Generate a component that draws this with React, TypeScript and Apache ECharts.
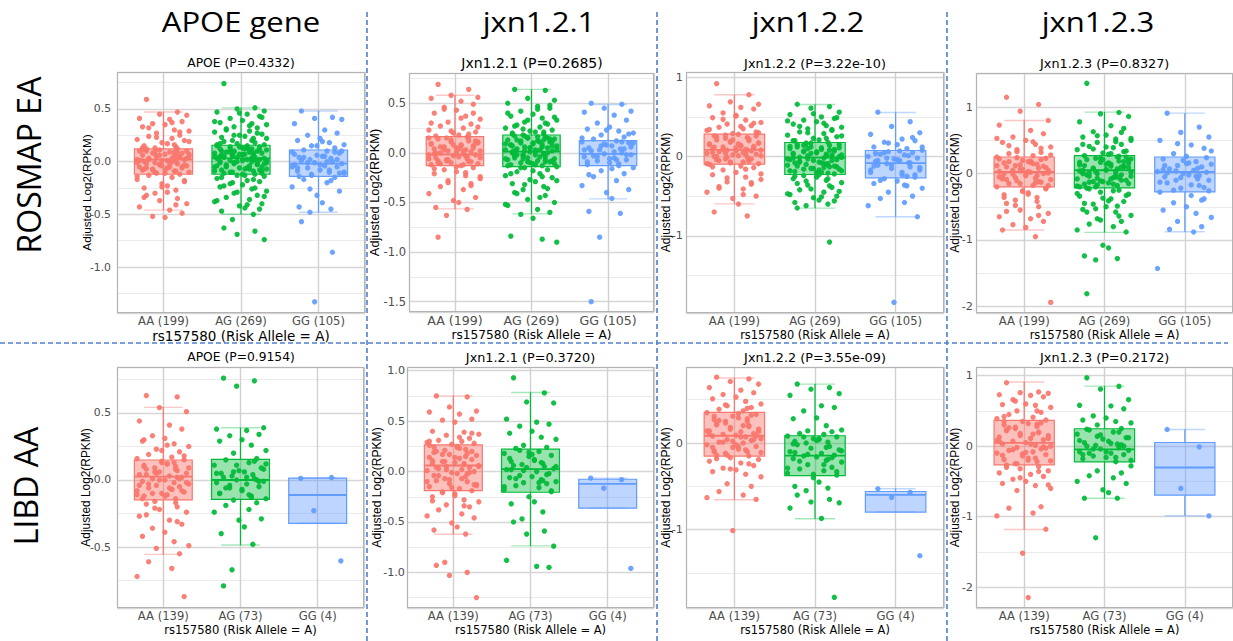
import { useEffect, useRef } from 'react';
import * as echarts from 'echarts';

// ---------- text ----------
const HEADERS = ['APOE gene', 'jxn1.2.1', 'jxn1.2.2', 'jxn1.2.3'];
const ROW_LABELS = ['ROSMAP EA', 'LIBD AA'];
const GENOTYPES = ['AA', 'AG', 'GG'];
const ROSMAP_COUNTS = [199, 269, 105];
const LIBD_COUNTS = [139, 73, 4];
const PANEL_TITLES = [
  'APOE (P=0.4332)', 'Jxn1.2.1 (P=0.2685)', 'Jxn1.2.2 (P=3.22e-10)', 'Jxn1.2.3 (P=0.8327)',
  'APOE (P=0.9154)', 'Jxn1.2.1 (P=0.3720)', 'Jxn1.2.2 (P=3.55e-09)', 'Jxn1.2.3 (P=0.2172)',
];
const X_TITLE = 'rs157580 (Risk Allele = A)';
const Y_TITLE = 'Adjusted Log2(RPKM)';

// ---------- box statistics [min, q1, median, q3, max] per genotype ----------
const BOX_R_APOE = [[-0.46, -0.12, 0.02, 0.12, 0.47], [-0.5, -0.12, 0.03, 0.155, 0.51], [-0.48, -0.14, -0.02, 0.11, 0.48]];
const BOX_R_J1 = [[-0.565, -0.128, -0.017, 0.164, 0.58], [-0.615, -0.138, 0.013, 0.18, 0.64], [-0.464, -0.128, -0.01, 0.124, 0.487]];
const BOX_R_J2 = [[-0.597, -0.096, 0.084, 0.282, 0.78], [-0.651, -0.227, -0.013, 0.177, 0.656], [-0.76, -0.269, -0.083, 0.076, 0.555]];
const BOX_R_J3 = [[-0.85, -0.2, 0.024, 0.25, 0.8], [-0.886, -0.216, 0.05, 0.27, 0.925], [-0.877, -0.276, 0.024, 0.25, 0.91]];
const BOX_L_APOE = [[-0.555, -0.149, 0.025, 0.149, 0.542], [-0.485, -0.144, 0, 0.154, 0.39], [-0.323, -0.323, -0.112, 0.014, 0.018]];
const BOX_L_J1 = [[-0.621, -0.188, 0.06, 0.265, 0.751], [-0.737, -0.205, 0.024, 0.222, 0.784], [-0.363, -0.363, -0.122, -0.076, -0.065]];
const BOX_L_J2 = [[-0.654, -0.15, 0.084, 0.353, 0.75], [-0.873, -0.377, -0.146, 0.084, 0.68], [-0.796, -0.796, -0.598, -0.559, -0.527]];
const BOX_L_J3 = [[-1.183, -0.265, 0.048, 0.365, 0.91], [-0.739, -0.222, -0.047, 0.247, 0.852], [-0.989, -0.696, -0.303, 0.052, 0.237]];

// ---------- individual samples ----------
const R_APOE_AA = [.59,.47,.45,.44,.41,.4,.38,.36,.35,.33,.3,.29,.27,.25,.24,.22,.21,.2,.18,.17,.15,.14,.13,.12,.12,.11,.1,.1,.09,.08,.08,.07,.06,.06,.05,.05,.04,.03,.03,.02,.02,.01,.01,0,0,-.01,-.02,-.02,-.03,-.04,-.05,-.05,-.06,-.07,-.08,-.08,-.09,-.1,-.11,-.12,-.13,-.15,-.17,-.19,-.21,-.23,-.25,-.27,-.3,-.32,-.35,-.37,-.4,-.43,-.46,-.49,-.52,-.53,
  .11,.09,.07,.05,.04,.02,0,-.01,-.03,-.04,-.06,-.07,-.09,-.1,.1,.08,.06,.03,.01,-.02,-.05,-.08,-.11,.13,.16,.19,.23,.28,.32,.37,-.14,-.18,-.24,-.29,-.34,-.41,.09,-.06,.04,-.03];
const R_APOE_AG = [.74,.51,.5,.48,.47,.45,.43,.41,.39,.37,.36,.35,.33,.32,.3,.29,.28,.26,.25,.24,.23,.22,.2,.19,.18,.17,.16,.16,.15,.14,.14,.13,.12,.12,.11,.1,.1,.09,.09,.08,.08,.07,.07,.06,.06,.05,.05,.04,.04,.03,.03,.02,.02,.01,.01,0,0,-.01,-.02,-.02,-.03,-.04,-.05,-.05,-.06,-.07,-.08,-.09,-.1,-.11,-.12,-.13,-.14,-.16,-.18,-.19,-.21,-.22,-.24,-.26,-.28,-.3,-.32,-.34,-.36,-.38,-.4,-.42,-.44,-.47,-.5,-.55,-.63,-.66,-.69,-.74,
  .15,.13,.11,.09,.07,.05,.03,.01,-.01,-.03,-.05,-.07,-.09,-.11,.14,.12,.1,.08,.06,.04,.02,0,-.02,-.04,-.06,-.08,-.1,-.12,.17,.2,.22,.25,.27,.31,.34,.38,.42,.46,-.13,-.15,-.17,-.2,-.23,-.25,-.29,-.33,-.37,-.41,-.45,.12,.06,-.01,.03,-.07,.09,0,-.04,.11,.05,-.09];
const R_APOE_GG = [.48,.42,.41,.4,.36,.3,.27,.25,.22,.2,.18,.16,.15,.13,.11,.1,.09,.08,.06,.05,.04,.03,.02,.01,0,-.01,-.02,-.03,-.04,-.05,-.06,-.08,-.09,-.1,-.11,-.13,-.15,-.17,-.2,-.24,-.28,-.32,-.39,-.43,-.45,-.48,-.57,-.86,-1.33,
  .1,.07,.05,.02,-.01,-.03,-.06,-.08,-.1,-.12,.09,.04,0,-.05,-.11,.15,.19,-.14,-.18,-.26];

const R_J1_AA = [.69,.64,.58,.56,.55,.52,.49,.46,.43,.4,.37,.34,.31,.29,.27,.25,.23,.21,.2,.18,.17,.16,.15,.14,.12,.11,.1,.09,.08,.07,.06,.05,.04,.03,.02,.02,.01,0,-.01,-.02,-.02,-.03,-.04,-.05,-.06,-.07,-.08,-.09,-.1,-.11,-.12,-.13,-.15,-.17,-.19,-.21,-.23,-.26,-.28,-.31,-.34,-.37,-.41,-.45,-.48,-.5,-.55,-.57,-.63,-.85,
  .16,.13,.11,.09,.07,.05,.03,.01,-.01,-.03,-.05,-.07,-.09,-.11,-.12,.15,.12,.08,.04,0,-.04,-.08,-.1,.19,.22,.26,.3,.35,.4,.44,-.14,-.16,-.2,-.24,-.3,-.33,.06,.02,-.06,.1];
const R_J1_AG = [.64,.63,.55,.53,.5,.47,.45,.42,.39,.37,.35,.33,.31,.29,.28,.26,.25,.23,.22,.21,.2,.19,.18,.17,.16,.15,.14,.13,.12,.11,.1,.09,.08,.08,.07,.06,.05,.04,.03,.03,.02,.01,.01,0,-.01,-.02,-.03,-.04,-.05,-.06,-.07,-.08,-.09,-.1,-.11,-.12,-.13,-.14,-.15,-.17,-.19,-.21,-.23,-.25,-.27,-.29,-.31,-.34,-.37,-.4,-.43,-.47,-.5,-.53,-.57,-.6,-.62,-.66,-.84,-.87,-.9,
  .17,.15,.13,.11,.09,.07,.05,.03,.01,-.01,-.03,-.05,-.07,-.09,-.11,-.13,.16,.14,.12,.1,.08,.06,.04,.02,0,-.02,-.04,-.06,-.08,-.1,-.12,.19,.21,.24,.27,.3,.33,.36,.4,.44,.48,-.15,-.18,-.21,-.24,-.28,-.32,-.36,-.41,-.45,-.52,.11,.05,-.02,.07,.13,-.06,.02,-.09,.15];
const R_J1_GG = [.5,.49,.45,.42,.41,.38,.33,.3,.26,.24,.22,.2,.18,.16,.14,.12,.11,.1,.08,.07,.05,.04,.03,.02,0,-.01,-.02,-.04,-.05,-.07,-.08,-.1,-.12,-.13,-.15,-.18,-.21,-.24,-.28,-.33,-.37,-.4,-.46,-.59,-.61,-.85,-1.5,
  .11,.09,.06,.03,.01,-.02,-.04,-.06,-.09,-.11,.1,.07,.04,-.03,-.07,.15,.19,.23,-.16,-.22];

const R_J2_AA = [.92,.78,.69,.66,.64,.62,.6,.55,.52,.49,.46,.43,.41,.39,.37,.35,.33,.31,.29,.28,.26,.24,.23,.21,.2,.18,.17,.16,.14,.13,.12,.11,.1,.09,.08,.08,.07,.06,.05,.04,.03,.02,.01,0,-.01,-.03,-.04,-.06,-.07,-.09,-.1,-.12,-.14,-.17,-.2,-.23,-.26,-.29,-.32,-.35,-.38,-.41,-.45,-.5,-.53,-.6,-.7,-.75,
  .27,.25,.22,.19,.17,.15,.13,.11,.09,.07,.05,.03,.01,-.01,-.03,-.05,-.07,-.09,.26,.21,.16,.12,.08,.04,0,-.04,-.08,.3,.34,.38,.42,.47,.51,-.13,-.16,-.22,-.27,-.33,-.4,-.48];
const R_J2_AG = [.66,.63,.61,.56,.53,.5,.48,.46,.44,.41,.39,.37,.35,.33,.31,.29,.27,.25,.23,.21,.2,.18,.17,.15,.14,.12,.11,.1,.09,.07,.06,.05,.04,.03,.02,.01,0,-.01,-.02,-.03,-.04,-.05,-.07,-.08,-.09,-.1,-.12,-.13,-.15,-.16,-.18,-.2,-.22,-.24,-.26,-.28,-.3,-.33,-.36,-.39,-.42,-.45,-.47,-.5,-.52,-.55,-.58,-.6,-.62,-.65,-1.08,
  .17,.15,.13,.11,.09,.07,.05,.03,.01,-.01,-.03,-.05,-.07,-.09,-.11,-.13,-.15,-.17,-.19,-.21,.16,.12,.08,.04,0,-.04,-.08,-.12,-.16,-.2,.2,.23,.26,.3,.34,.38,.42,.45,.49,.54,-.23,-.25,-.28,-.31,-.34,-.37,-.41,-.44,-.48,-.51,-.56,.14,.06,-.02,-.1,-.18,.1,.02,-.06,-.14];
const R_J2_GG = [.56,.44,.38,.3,.28,.22,.2,.18,.15,.12,.1,.08,.06,.05,.03,.02,0,-.02,-.03,-.05,-.06,-.08,-.09,-.11,-.13,-.15,-.17,-.2,-.23,-.26,-.28,-.31,-.34,-.37,-.4,-.45,-.5,-.53,-.58,-.62,-.76,-1.84,
  .07,.04,.01,-.02,-.05,-.08,-.11,-.14,-.17,-.2,-.23,.05,-.04,-.12,-.25,.12,.17,.24,-.3,-.36];

const R_J3_AA = [1.15,1.04,.94,.8,.73,.65,.6,.55,.5,.47,.44,.4,.36,.32,.3,.27,.25,.23,.2,.18,.16,.14,.12,.1,.08,.06,.05,.03,.02,0,-.01,-.03,-.05,-.07,-.09,-.11,-.13,-.15,-.18,-.2,-.23,-.26,-.29,-.32,-.36,-.4,-.45,-.5,-.55,-.6,-.65,-.68,-.72,-.77,-.81,-.85,-.95,-1.94,
  .24,.21,.18,.15,.12,.09,.06,.03,0,-.03,-.06,-.09,-.12,-.15,-.18,.22,.17,.11,.05,-.02,-.08,-.14,.28,.33,.38,.42,.48,.53,-.22,-.27,-.31,-.36,-.42,-.48,-.57,-.63,.13,.01,-.05,.19];
const R_J3_AG = [1.36,.92,.9,.86,.78,.72,.68,.63,.58,.55,.52,.5,.47,.44,.41,.39,.36,.34,.31,.29,.27,.25,.23,.21,.19,.17,.15,.13,.11,.1,.08,.06,.05,.03,.02,0,-.02,-.04,-.06,-.08,-.1,-.12,-.14,-.16,-.18,-.2,-.22,-.25,-.28,-.31,-.34,-.38,-.42,-.46,-.5,-.54,-.58,-.63,-.68,-.72,-.76,-.8,-.85,-.88,-1.08,-1.12,-1.24,-1.28,-1.3,-1.81,
  .26,.23,.2,.17,.14,.11,.08,.05,.02,-.01,-.04,-.07,-.1,-.13,-.16,-.19,.25,.21,.16,.12,.07,.03,-.02,-.06,-.11,-.15,-.2,.3,.33,.37,.4,.44,.48,.53,.57,.62,-.23,-.26,-.3,-.33,-.37,-.41,-.45,-.49,-.53,-.58,-.64,-.7,.09,.04,-.08,.18,-.12,.14,0,-.05,.22,-.17,.1,.01];
const R_J3_GG = [.91,.7,.62,.55,.5,.43,.38,.3,.26,.22,.18,.14,.12,.1,.07,.05,.03,.02,0,-.02,-.05,-.08,-.1,-.14,-.18,-.22,-.26,-.28,-.33,-.38,-.44,-.5,-.55,-.6,-.66,-.72,-.8,-.84,-.88,-1.43,
  .24,.2,.16,.12,.08,.04,.01,-.03,-.06,-.1,-.13,-.17,-.21,-.25,.15,.06,-.04,.34,.45,-.4];

const L_APOE_AA = [.63,.62,.54,.51,.44,.41,.38,.33,.31,.29,.27,.25,.23,.21,.19,.17,.16,.15,.13,.12,.11,.1,.09,.08,.07,.06,.05,.04,.03,.02,.01,0,-.01,-.02,-.03,-.04,-.05,-.06,-.07,-.08,-.09,-.1,-.11,-.12,-.14,-.16,-.18,-.2,-.22,-.24,-.27,-.3,-.33,-.36,-.39,-.42,-.46,-.49,-.51,-.55,-.61,-.66,-.72,-.87,
  .14,.12,.1,.08,.06,.04,.02,0,-.02,-.04,-.06,-.08,-.1,-.12,-.14,.13,.09,.05,.01,-.03,-.07,-.11,.18,.22,.26,.3,-.17,-.21,-.26,-.31];
const L_APOE_AG = [.76,.74,.7,.39,.38,.37,.34,.33,.3,.29,.26,.22,.2,.16,.15,.13,.11,.09,.07,.06,.05,.04,.03,.02,.01,0,-.01,-.02,-.03,-.05,-.06,-.08,-.1,-.12,-.14,-.15,-.17,-.19,-.22,-.24,-.29,-.3,-.35,-.4,-.48,-.67,-.79,
  .14,.11,.08,.05,.02,-.01,-.04,-.07,-.1,-.13,.12,.06,0,-.06,-.11];
const L_APOE_GG = [.012,.018,-.229,-.604];

const L_J1_AA = [.75,.74,.64,.6,.59,.57,.52,.51,.49,.4,.39,.37,.36,.33,.31,.3,.29,.28,.27,.25,.24,.22,.21,.2,.18,.17,.16,.14,.13,.12,.1,.09,.08,.07,.06,.05,.04,.03,.02,.01,0,-.01,-.02,-.04,-.05,-.07,-.09,-.1,-.12,-.13,-.15,-.17,-.19,-.21,-.22,-.25,-.28,-.3,-.33,-.35,-.38,-.42,-.44,-.46,-.51,-.55,-.58,-.62,-.9,-.93,-1,-1.03,-1.25,
  .26,.23,.2,.17,.14,.11,.08,.05,.02,-.01,-.04,-.07,-.1,-.13,-.16,.24,.19,.15,.1,.04,-.02,-.08,-.14,.3,.34,.38,-.2,-.24,-.29,-.34];
const L_J1_AG = [.93,.78,.69,.68,.52,.49,.47,.45,.4,.38,.34,.32,.26,.24,.23,.2,.18,.16,.15,.12,.1,.08,.07,.06,.05,.04,.03,.02,0,-.02,-.04,-.05,-.06,-.08,-.1,-.11,-.12,-.14,-.16,-.18,-.2,-.25,-.3,-.32,-.4,-.47,-.5,-.59,-.62,-.74,-.88,-.94,-.95,
  .21,.17,.13,.09,.05,.01,-.03,-.07,-.11,-.15,-.19,.19,.11,.02,-.09];
const L_J1_GG = [-.065,-.08,-.165,-.96];

const L_J2_AA = [.76,.74,.71,.68,.64,.61,.58,.56,.53,.51,.48,.45,.43,.41,.39,.37,.35,.33,.31,.29,.27,.25,.23,.21,.2,.18,.16,.14,.13,.11,.1,.09,.08,.07,.05,.04,.03,.01,0,-.02,-.04,-.05,-.07,-.09,-.1,-.12,-.14,-.15,-.17,-.19,-.21,-.23,-.26,-.29,-.31,-.33,-.36,-.39,-.47,-.5,-.56,-.6,-.63,-.65,-1.01,
  .34,.31,.28,.25,.22,.19,.16,.13,.1,.07,.04,.01,-.02,-.05,-.08,-.11,-.14,.32,.26,.2,.14,.08,.02,-.04,-.1,.4,.44,-.18,-.24,-.3];
const L_J2_AG = [.68,.64,.62,.57,.55,.43,.41,.37,.29,.28,.2,.15,.14,.13,.11,.1,.08,.07,.05,.04,.02,.01,0,-.02,-.04,-.06,-.08,-.1,-.12,-.14,-.15,-.16,-.18,-.2,-.22,-.25,-.28,-.3,-.32,-.35,-.37,-.4,-.45,-.5,-.52,-.55,-.6,-.65,-.68,-.69,-.75,-.87,-1.78,
  .07,.03,-.01,-.05,-.09,-.13,-.17,-.21,-.25,-.29,-.33,-.36,.05,-.11,-.19];
const L_J2_GG = [-.527,-.57,-.627,-1.3];

const L_J3_AA = [.9,.77,.76,.75,.73,.72,.7,.66,.6,.59,.58,.55,.5,.48,.45,.41,.39,.37,.35,.32,.3,.28,.25,.22,.2,.18,.15,.13,.11,.09,.07,.05,.03,.01,0,-.02,-.04,-.06,-.08,-.1,-.12,-.14,-.17,-.19,-.22,-.25,-.27,-.29,-.32,-.35,-.38,-.4,-.43,-.47,-.5,-.53,-.56,-.6,-.63,-.86,-.88,-.95,-.99,-1.18,-1.52,-2.15,
  .35,.31,.27,.23,.19,.15,.11,.07,.03,-.01,-.05,-.09,-.13,-.17,-.21,-.25,.33,.26,.17,.08,-.03,-.11,-.2,.42,.5,.64,-.3,-.36,-.45,-.55];
const L_J3_AG = [.97,.85,.81,.66,.58,.57,.53,.43,.4,.37,.35,.33,.3,.25,.23,.2,.17,.12,.1,.07,.05,.03,.01,0,-.02,-.04,-.06,-.08,-.1,-.12,-.14,-.16,-.18,-.22,-.28,-.35,-.38,-.42,-.45,-.5,-.53,-.62,-.66,-.74,-.74,-1.3,
  .24,.2,.16,.12,.08,.04,0,-.04,-.08,-.12,-.16,-.2,.14,.02,-.1];
const L_J3_GG = [.237,-.01,-.6,-.99];

const PANEL_DATA = [
  { boxes: BOX_R_APOE, points: [R_APOE_AA, R_APOE_AG, R_APOE_GG], counts: ROSMAP_COUNTS },
  { boxes: BOX_R_J1, points: [R_J1_AA, R_J1_AG, R_J1_GG], counts: ROSMAP_COUNTS },
  { boxes: BOX_R_J2, points: [R_J2_AA, R_J2_AG, R_J2_GG], counts: ROSMAP_COUNTS },
  { boxes: BOX_R_J3, points: [R_J3_AA, R_J3_AG, R_J3_GG], counts: ROSMAP_COUNTS },
  { boxes: BOX_L_APOE, points: [L_APOE_AA, L_APOE_AG, L_APOE_GG], counts: LIBD_COUNTS },
  { boxes: BOX_L_J1, points: [L_J1_AA, L_J1_AG, L_J1_GG], counts: LIBD_COUNTS },
  { boxes: BOX_L_J2, points: [L_J2_AA, L_J2_AG, L_J2_GG], counts: LIBD_COUNTS },
  { boxes: BOX_L_J3, points: [L_J3_AA, L_J3_AG, L_J3_GG], counts: LIBD_COUNTS },
];

// ---------- layout & style ----------
const JITTER = [-0.22, 0.18, -0.05, 0.3, -0.31, 0.08, 0.24, -0.14, 0.02, -0.27, 0.14, 0.33, -0.09, 0.21, -0.19, 0.11, -0.34, 0.27, -0.02, 0.05, -0.25, 0.16, -0.11];
const COLORS = ['#F8766D', '#00BA38', '#619CFF'];
const FILLS = ['rgba(248,118,109,0.45)', 'rgba(0,186,56,0.4)', 'rgba(97,156,255,0.42)'];
const CAP_COLORS = ['rgba(248,118,109,0.4)', 'rgba(0,186,56,0.35)', 'rgba(97,156,255,0.4)'];
const BOX_WIDTH = 0.75;
const CAP_WIDTH = 0.5;

const LAYOUT = [
  { l: 117, t: 72, r: 365, b: 313, yMin: -1.436, yMax: 0.85, step: 0.5, dec: 1, tx: 241, ty: 63, tS: 12.3, xS: 11.6, yS: 10.8, xnS: 13.5, ynS: 11.7, yM: 6, ynG: 25, xnG: 16 },
  { l: 409, t: 73, r: 654, b: 312, yMin: -1.604, yMax: 0.805, step: 0.5, dec: 1, tx: 532, ty: 63, tS: 14, xS: 12.6, yS: 11.5, xnS: 12.2, ynS: 12.8, yM: 3, ynG: 28, xnG: 17 },
  { l: 686, t: 72, r: 944, b: 313, yMin: -1.975, yMax: 1.067, step: 1, dec: 0, tx: 815, ty: 63, tS: 12.8, xS: 11.6, yS: 11.3, xnS: 11.4, ynS: 12, yM: 3, ynG: 14, xnG: 16 },
  { l: 976, t: 73, r: 1233, b: 313, yMin: -2.1, yMax: 1.515, step: 1, dec: 0, tx: 1104.7, ty: 63, tS: 12.8, xS: 11.6, yS: 11.3, xnS: 11.4, ynS: 12, yM: 3, ynG: 15, xnG: 16 },
  { l: 117, t: 367, r: 364, b: 608, yMin: -0.955, yMax: 0.843, step: 0.5, dec: 1, tx: 241, ty: 356.5, tS: 12.3, xS: 11.6, yS: 10.8, xnS: 11.6, ynS: 11.9, yM: 6, ynG: 25, xnG: 16 },
  { l: 407, t: 367, r: 654, b: 608, yMin: -1.353, yMax: 1.037, step: 0.5, dec: 1, tx: 530.5, ty: 357.3, tS: 12.8, xS: 11.6, yS: 11.2, xnS: 11.5, ynS: 12.1, yM: 2, ynG: 24, xnG: 16 },
  { l: 686, t: 367, r: 944, b: 608, yMin: -1.903, yMax: 0.877, step: 1, dec: 0, tx: 815, ty: 357.3, tS: 12.8, xS: 11.6, yS: 11.3, xnS: 11.4, ynS: 12.1, yM: 3, ynG: 14, xnG: 16 },
  { l: 976, t: 367, r: 1233, b: 608, yMin: -2.298, yMax: 1.124, step: 1, dec: 0, tx: 1104.7, ty: 357.3, tS: 12.8, xS: 11.6, yS: 11.3, xnS: 11.4, ynS: 12, yM: 3, ynG: 15, xnG: 16 },
];
const HEADER_X = [241, 539, 808, 1098];
const HEADER_Y = 22;
const ROW_POS = [[28, 165], [25, 486]];
const V_DIVIDERS = [367, 657, 947];
const H_DIVIDER = 343;
const DIVIDER_COLOR = '#5080D0';

function renderBox(params: any, api: any) {
  const x = api.value(0);
  const g = api.value(6);
  const c = COLORS[g];
  const pMin = api.coord([x, api.value(1)]);
  const pQ1 = api.coord([x, api.value(2)]);
  const pMed = api.coord([x, api.value(3)]);
  const pQ3 = api.coord([x, api.value(4)]);
  const pMax = api.coord([x, api.value(5)]);
  const bw = api.size([BOX_WIDTH, 0])[0];
  const cw = api.size([CAP_WIDTH, 0])[0];
  const cx = pMed[0];
  return {
    type: 'group',
    children: [
      { type: 'line', shape: { x1: cx, y1: pQ3[1], x2: cx, y2: pMax[1] }, style: { stroke: c, lineWidth: 1.2 } },
      { type: 'line', shape: { x1: cx, y1: pQ1[1], x2: cx, y2: pMin[1] }, style: { stroke: c, lineWidth: 1.2 } },
      { type: 'line', shape: { x1: cx - cw / 2, y1: pMax[1], x2: cx + cw / 2, y2: pMax[1] }, style: { stroke: CAP_COLORS[g], lineWidth: 1.4 } },
      { type: 'line', shape: { x1: cx - cw / 2, y1: pMin[1], x2: cx + cw / 2, y2: pMin[1] }, style: { stroke: CAP_COLORS[g], lineWidth: 1.4 } },
      { type: 'rect', shape: { x: cx - bw / 2, y: pQ3[1], width: bw, height: pQ1[1] - pQ3[1] }, style: { fill: FILLS[g], stroke: c, lineWidth: 1.2 } },
      { type: 'line', shape: { x1: cx - bw / 2, y1: pMed[1], x2: cx + bw / 2, y2: pMed[1] }, style: { stroke: c, lineWidth: 1.8 } },
    ],
  };
}

function buildOption() {
  const grid: any[] = [];
  const xAxis: any[] = [];
  const yAxis: any[] = [];
  const series: any[] = [];
  const graphic: any[] = [];

  LAYOUT.forEach((L, i) => {
    const D = PANEL_DATA[i];
    grid.push({
      left: L.l, top: L.t, width: L.r - L.l, height: L.b - L.t,
      show: true, backgroundColor: '#ffffff', borderWidth: 0,
      containLabel: false, outerBoundsMode: 'none',
    });
    xAxis.push({
      type: 'value', gridIndex: i, min: 0.4, max: 3.6, minInterval: 1, maxInterval: 1,
      axisLine: { show: false }, axisTick: { show: false },
      axisLabel: {
        showMinLabel: false, showMaxLabel: false, margin: 2,
        color: '#4D4D4D', fontSize: L.xS, fontFamily: 'DejaVu Sans',
        formatter: (v: number) => {
          const k = Math.round(v);
          if (Math.abs(v - k) > 1e-6 || k < 1 || k > 3) return '';
          return `${GENOTYPES[k - 1]} (${D.counts[k - 1]})`;
        },
      },
      splitLine: { show: true, lineStyle: { color: '#D0D0D0', width: 1.4 } },
      name: X_TITLE, nameLocation: 'middle', nameGap: L.xnG, nameMoveOverlap: false,
      nameTextStyle: { color: '#000', fontSize: L.xnS, fontFamily: 'DejaVu Sans' },
    });
    yAxis.push({
      type: 'value', gridIndex: i, min: L.yMin, max: L.yMax, minInterval: L.step, maxInterval: L.step,
      axisLine: { show: false }, axisTick: { show: false },
      axisLabel: {
        showMinLabel: false, showMaxLabel: false, margin: L.yM,
        color: '#4D4D4D', fontSize: L.yS, fontFamily: 'DejaVu Sans',
        formatter: (v: number) => v.toFixed(L.dec),
      },
      splitLine: { show: true, lineStyle: { color: '#D6D6D6', width: 1.4 } },
      minorTick: { show: false, splitNumber: 2 },
      minorSplitLine: { show: true, lineStyle: { color: '#EBEBEB', width: 1 } },
      name: Y_TITLE, nameLocation: 'middle', nameGap: L.ynG, nameRotate: 90, nameMoveOverlap: false,
      nameTextStyle: { color: '#000', fontSize: L.ynS, fontFamily: 'Liberation Sans' },
    });
    series.push({
      type: 'custom', xAxisIndex: i, yAxisIndex: i, z: 2, silent: true,
      renderItem: renderBox,
      encode: { x: 0, y: [1, 2, 3, 4, 5] },
      data: D.boxes.map((b, g) => [g + 1, ...b, g]),
    });
    D.points.forEach((vals, g) => {
      series.push({
        type: 'scatter', xAxisIndex: i, yAxisIndex: i, z: 3, silent: true,
        symbol: 'circle', symbolSize: 5.4,
        itemStyle: { color: COLORS[g], opacity: 0.92 },
        data: vals.map((v, k) => [g + 1 + JITTER[k % JITTER.length], v]),
      });
    });
    graphic.push({
      type: 'rect', z: 100, silent: true,
      shape: { x: L.l + 0.5, y: L.t + 0.5, width: L.r - L.l - 1, height: L.b - L.t - 1 },
      style: { fill: 'none', stroke: '#B3B3B3', lineWidth: 1 },
    });
    graphic.push({
      type: 'text', x: L.tx, y: L.ty, z: 100, silent: true,
      style: { text: PANEL_TITLES[i], fontSize: L.tS, fontFamily: 'DejaVu Sans', fill: '#000', align: 'center', verticalAlign: 'middle' },
    });
  });

  HEADERS.forEach((h, c) => {
    graphic.push({
      type: 'text', x: HEADER_X[c], y: HEADER_Y, scaleX: 1.15, z: 100, silent: true,
      style: { text: h, fontSize: 27, fontFamily: 'Open Sans', fill: '#000', align: 'center', verticalAlign: 'middle' },
    });
  });
  ROW_LABELS.forEach((r, k) => {
    graphic.push({
      type: 'text', x: ROW_POS[k][0], y: ROW_POS[k][1], rotation: Math.PI / 2, z: 100, silent: true,
      style: { text: r, fontSize: 32, fontFamily: 'Open Sans', fill: '#000', align: 'center', verticalAlign: 'middle' },
    });
  });
  V_DIVIDERS.forEach((x) => {
    graphic.push({
      type: 'line', z: 100, silent: true,
      shape: { x1: x, y1: 12, x2: x, y2: 641 },
      style: { stroke: DIVIDER_COLOR, lineWidth: 1.6, lineDash: [5, 3] },
    });
  });
  graphic.push({
    type: 'line', z: 100, silent: true,
    shape: { x1: 0, y1: H_DIVIDER, x2: 1228, y2: H_DIVIDER },
    style: { stroke: DIVIDER_COLOR, lineWidth: 1.6, lineDash: [5, 3] },
  });

  return {
    animation: false,
    backgroundColor: '#ffffff',
    grid, xAxis, yAxis, series, graphic,
  };
}

export default function App() {
  const ref = useRef<HTMLDivElement>(null);
  useEffect(() => {
    if (!ref.current) return;
    const chart = echarts.init(ref.current, null, { renderer: 'svg' });
    chart.setOption(buildOption() as any);
    return () => chart.dispose();
  }, []);
  return (
    <div
      ref={ref}
      style={{ position: 'fixed', left: 0, top: 0, width: 1233, height: 641, background: '#fff' }}
    />
  );
}
